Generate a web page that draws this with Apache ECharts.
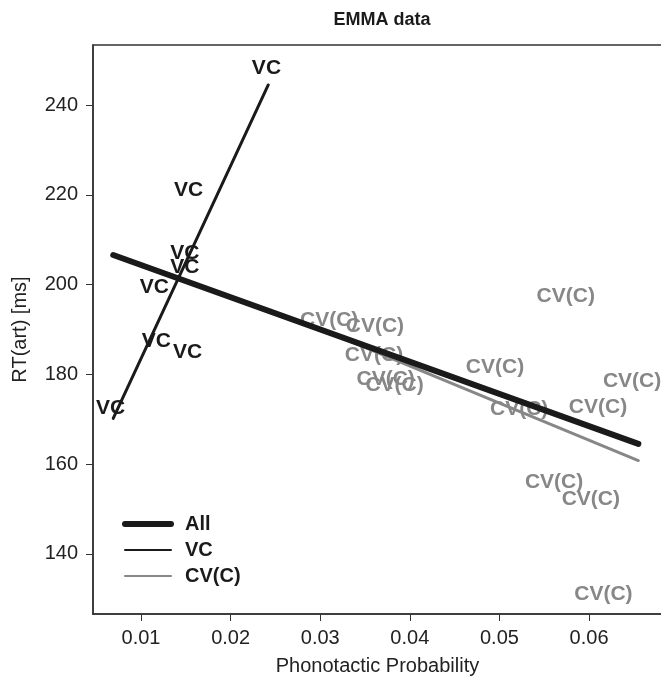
<!DOCTYPE html>
<html>
<head>
<meta charset="utf-8">
<script src="https://cdn.jsdelivr.net/npm/echarts@6/dist/echarts.min.js"></script>
<style>
  html, body { margin: 0; padding: 0; background: #fff; }
  #chart { width: 661px; height: 680px; }
</style>
</head>
<body>
<div id="chart"></div>
<script>
// VC items (label positions)
const vcX = [0.0240, 0.0153, 0.0149, 0.0149, 0.0115, 0.0117, 0.0152, 0.0066]
const vcY = [248.2, 221.0, 207.0, 203.9, 199.5, 187.4, 185.0, 172.5]
// CV(C) items
const cvX = [0.0310, 0.0361, 0.0360, 0.0373, 0.0383, 0.0495, 0.0522, 0.0574, 0.0648, 0.0610, 0.0561, 0.0602, 0.0616]
const cvY = [192.0, 190.7, 184.2, 178.9, 177.6, 181.6, 172.2, 197.4, 178.4, 172.6, 155.9, 152.1, 131.1]
// fitted lines (end points)
const allLineX = [0.0069, 0.0655]
const allLineY = [206.6, 164.5]
const vcLineX = [0.0069, 0.0242]
const vcLineY = [170.2, 244.5]
const cvLineX = [0.0310, 0.0655]
const cvLineY = [189.3, 160.8]
// axis ticks
const xTicks = [0.01, 0.02, 0.03, 0.04, 0.05, 0.06]
const yTicks = [140, 160, 180, 200, 220, 240]

const FONT = '"Liberation Sans", Arial, sans-serif'
const DARK = '#1a1a1a'
const GREY = '#878787'

const pairs = (xs, ys) => xs.map((x, i) => [x, ys[i]])

const chart = echarts.init(document.getElementById('chart'))

// text labels placed at each point (no marker)
function labelSeries(text, xs, ys, color) {
  return {
    name: text + ' points',
    type: 'scatter',
    data: pairs(xs, ys),
    symbol: 'circle',
    symbolSize: 1,
    itemStyle: { color: 'rgba(0,0,0,0)', opacity: 1 },
    silent: true,
    z: 2,
    label: {
      show: true,
      position: 'inside',
      formatter: text,
      fontFamily: FONT,
      fontWeight: 'bold',
      fontSize: 21,
      color,
      textBorderWidth: 0,
    },
  }
}

function lineSeries(name, xs, ys, color, width) {
  return {
    name,
    type: 'line',
    data: pairs(xs, ys),
    symbol: 'none',
    silent: true,
    z: 5,
    lineStyle: { color, width, cap: 'round' },
    itemStyle: { color },
  }
}

const option = {
  animation: false,
  backgroundColor: '#fff',
  title: {
    text: 'EMMA data',
    left: 377,
    top: 6,
    textAlign: 'center',
    textStyle: { fontFamily: FONT, fontWeight: 'bold', fontSize: 18, color: DARK },
  },
  grid: {
    left: 93,
    top: 45,
    width: 569,
    height: 569,
    show: true,
    borderColor: '#333',
    borderWidth: 1.5,
    outerBoundsMode: 'none',
  },
  legend: {
    data: [
      { name: 'All', itemStyle: { opacity: 0 }, lineStyle: { width: 6, color: DARK } },
      { name: 'VC', itemStyle: { opacity: 0 }, lineStyle: { width: 2, color: DARK } },
      { name: 'CV(C)', itemStyle: { opacity: 0 }, lineStyle: { width: 2, color: GREY } },
    ],
    orient: 'vertical',
    left: 117,
    top: 509,
    itemWidth: 46,
    itemHeight: 14,
    itemGap: 6,
    selectedMode: false,
    textStyle: {
      fontFamily: FONT,
      fontWeight: 'bold',
      fontSize: 20,
      color: DARK,
      padding: [0, 0, 0, 9],
    },
  },
  xAxis: {
    type: 'value',
    min: 0.004643,
    max: 0.06814,
    name: 'Phonotactic Probability',
    nameLocation: 'middle',
    nameGap: 42,
    nameTextStyle: { fontFamily: FONT, fontSize: 20, color: '#222' },
    axisLine: { show: true, lineStyle: { color: '#333', width: 1.5 } },
    axisTick: { show: true, length: 7, customValues: xTicks, lineStyle: { color: '#333' } },
    axisLabel: {
      customValues: xTicks,
      margin: 14,
      fontFamily: FONT,
      fontSize: 20,
      color: '#222',
      formatter: v => v.toFixed(2),
    },
    splitLine: { show: false },
  },
  yAxis: {
    type: 'value',
    min: 126.6,
    max: 253.4,
    name: 'RT(art) [ms]',
    nameLocation: 'middle',
    nameGap: 63,
    nameTextStyle: { fontFamily: FONT, fontSize: 20, color: '#222' },
    axisLine: { show: true, lineStyle: { color: '#333', width: 1.5 } },
    axisTick: { show: true, length: 7, customValues: yTicks, lineStyle: { color: '#333' } },
    axisLabel: {
      customValues: yTicks,
      margin: 15,
      fontFamily: FONT,
      fontSize: 20,
      color: '#222',
    },
    splitLine: { show: false },
  },
  series: [
    labelSeries('VC', vcX, vcY, DARK),
    labelSeries('CV(C)', cvX, cvY, GREY),
    lineSeries('CV(C)', cvLineX, cvLineY, GREY, 3),
    lineSeries('VC', vcLineX, vcLineY, DARK, 3),
    lineSeries('All', allLineX, allLineY, DARK, 6),
  ],
}

chart.setOption(option)
</script>
</body>
</html>
